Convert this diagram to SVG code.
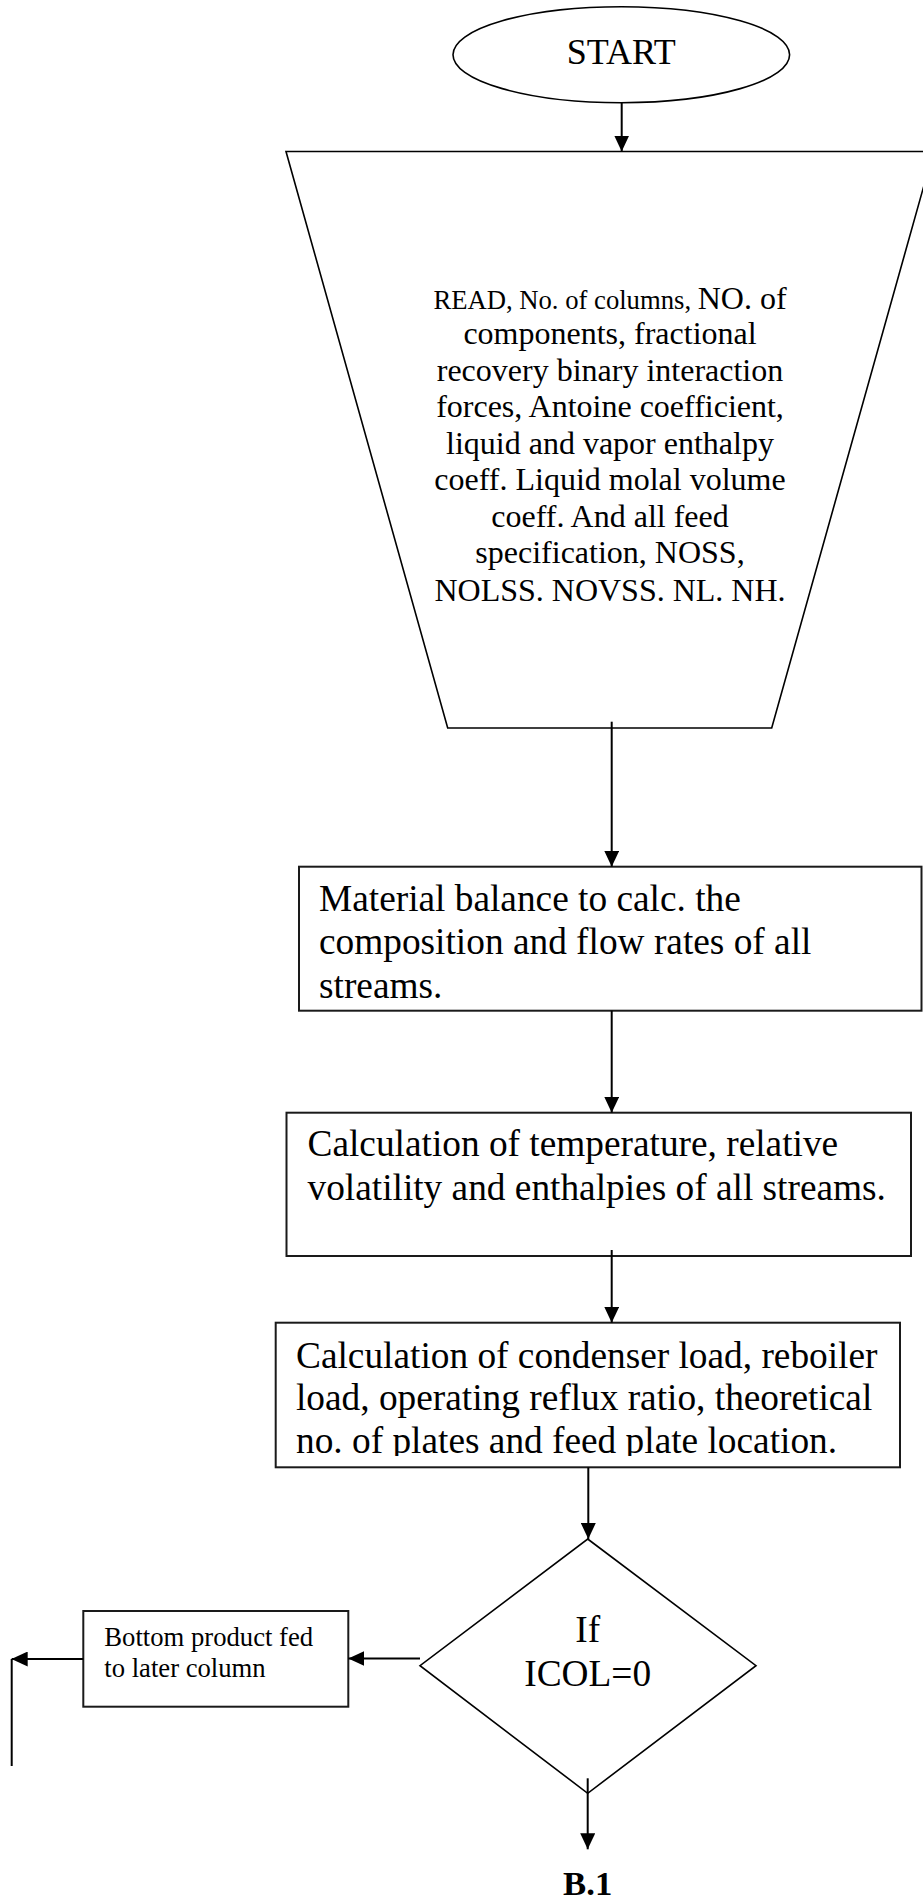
<svg xmlns="http://www.w3.org/2000/svg" width="923" height="1899" viewBox="0 0 923 1899">
  <style>
    .shape { fill: #ffffff; stroke: #000000; stroke-width: 1.6; }
    .box { fill: #ffffff; stroke: #1a1a1a; stroke-width: 2; }
    .txt { font-family: "Liberation Serif", "Times New Roman", serif; fill: #000000; }
    .big { font-size: 37.33px; }
    .mid { font-size: 32px; }
    .small { font-size: 26.67px; }
    .conn { fill: none; stroke: #000000; stroke-width: 2; }
    .arrow { marker-end: url(#head); }
  </style>
  <defs>
    <marker id="head" markerUnits="userSpaceOnUse" markerWidth="16" markerHeight="15" refX="16" refY="7.5" orient="auto">
      <path d="M0,0 L16,7.5 L0,15 Z" fill="#000000"/>
    </marker>
    <clipPath id="clip-condenser">
      <rect x="276" y="1323" width="624" height="133"/>
    </clipPath>
  </defs>

  <rect width="923" height="1899" fill="#ffffff"/>

  <!-- Terminal -->
  <g id="start">
    <ellipse class="shape" cx="621.3" cy="54.7" rx="168.3" ry="48"/>
    <text class="txt" x="621.3" y="64" font-size="36" text-anchor="middle">START</text>
  </g>

  <!-- Input block -->
  <g id="read-input">
    <polygon class="shape" points="286,151.5 933.5,151.5 771.7,728 447.7,728"/>
    <g class="txt mid" text-anchor="middle">
      <text x="610" y="309"><tspan class="small">READ, No. of columns, </tspan>NO. of</text>
      <text x="610" y="344">components, fractional</text>
      <text x="610" y="380.5">recovery binary interaction</text>
      <text x="610" y="417">forces, Antoine coefficient,</text>
      <text x="610" y="453.5">liquid and vapor enthalpy</text>
      <text x="610" y="490">coeff. Liquid molal volume</text>
      <text x="610" y="526.7">coeff. And all feed</text>
      <text x="610" y="563.3">specification, NOSS,</text>
      <text x="610" y="600.5">NOLSS. NOVSS. NL. NH.</text>
    </g>
  </g>

  <!-- Material balance -->
  <g id="material-balance">
    <rect class="box" x="299" y="866.7" width="622.5" height="144"/>
    <g class="txt big">
      <text x="319" y="911">Material balance to calc. the</text>
      <text x="319" y="954.3">composition and flow rates of all</text>
      <text x="319" y="997.5">streams.</text>
    </g>
  </g>

  <!-- Temperatures, volatilities, enthalpies -->
  <g id="stream-properties">
    <rect class="box" x="286.5" y="1112.7" width="624.5" height="143.3"/>
    <g class="txt big">
      <text x="307.5" y="1156">Calculation of temperature, relative</text>
      <text x="307.5" y="1200">volatility and enthalpies of all streams.</text>
    </g>
  </g>

  <!-- Loads, reflux, plates -->
  <g id="column-design">
    <rect class="box" x="275.7" y="1322.7" width="624.3" height="144.6"/>
    <g class="txt big" clip-path="url(#clip-condenser)">
      <text x="296" y="1367.7">Calculation of condenser load, reboiler</text>
      <text x="296" y="1410.3">load, operating reflux ratio, theoretical</text>
      <text x="296" y="1453">no. of plates and feed plate location.</text>
    </g>
  </g>

  <!-- Decision -->
  <g id="icol-check">
    <polygon class="shape" points="587.7,1539 756,1665.7 587.7,1793.3 420,1665.7"/>
    <g class="txt big" text-anchor="middle">
      <text x="587.7" y="1642.3">If</text>
      <text x="587.7" y="1685.7">ICOL=0</text>
    </g>
  </g>

  <!-- Side branch -->
  <g id="bottom-product">
    <rect class="box" x="83.3" y="1611" width="265" height="95.7"/>
    <g class="txt small">
      <text x="104.3" y="1645.7">Bottom product fed</text>
      <text x="104.3" y="1676.7">to later column</text>
    </g>
  </g>

  <!-- Off-page connector label -->
  <g id="b1">
    <text class="txt" x="587.7" y="1895" font-size="34.7" font-weight="bold" text-anchor="middle">B.1</text>
  </g>

  <!-- Flow lines -->
  <g id="connectors">
    <line class="conn arrow" x1="621.7" y1="102.7" x2="621.7" y2="151.5"/>
    <line class="conn arrow" x1="611.7" y1="721.7" x2="611.7" y2="866.7"/>
    <line class="conn arrow" x1="611.7" y1="1010.7" x2="611.7" y2="1112.7"/>
    <line class="conn arrow" x1="611.7" y1="1250" x2="611.7" y2="1322.7"/>
    <line class="conn arrow" x1="588.3" y1="1467.3" x2="588.3" y2="1539"/>
    <line class="conn arrow" x1="420" y1="1658.5" x2="348.3" y2="1658.5"/>
    <line class="conn arrow" x1="83.3" y1="1659" x2="11.7" y2="1659"/>
    <line class="conn" x1="11.7" y1="1659" x2="11.7" y2="1766"/>
    <line class="conn arrow" x1="587.7" y1="1778.3" x2="587.7" y2="1849.3"/>
  </g>
</svg>
